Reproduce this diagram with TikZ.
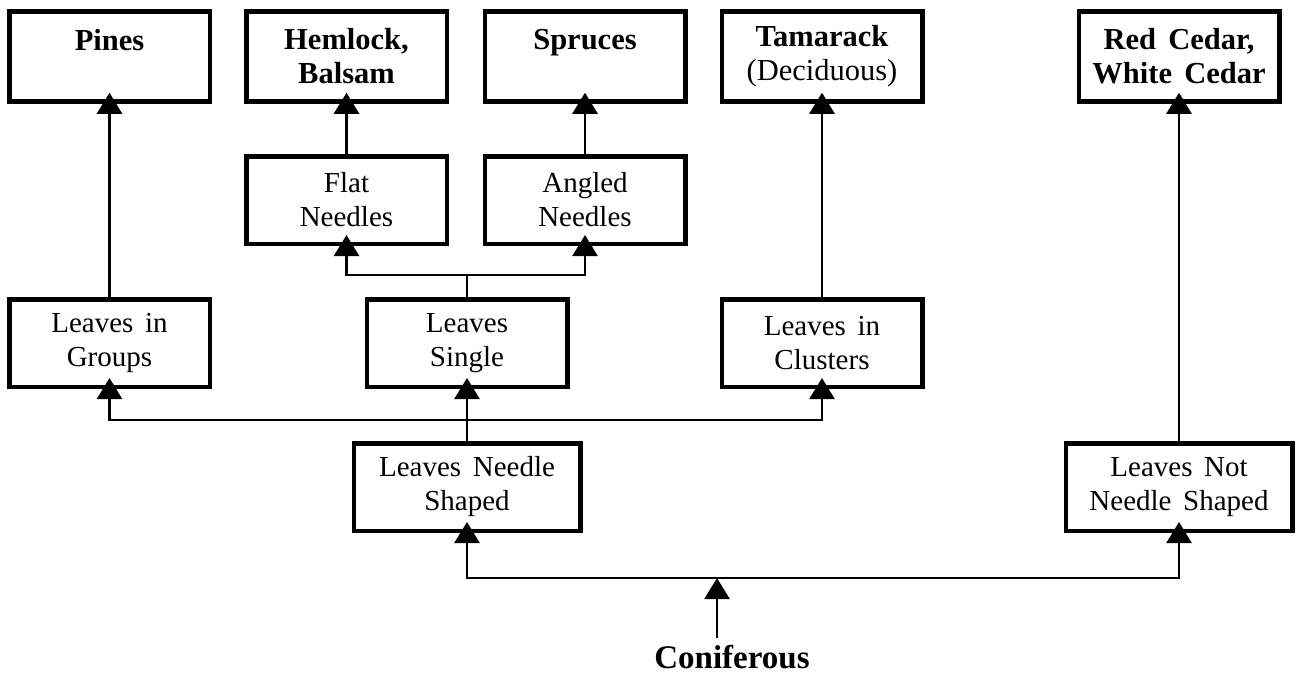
\documentclass[tikz,border=0pt]{standalone}
\usepackage{fontspec}
\setmainfont{Liberation Serif}[WordSpace=1.6]
\usetikzlibrary{arrows.meta, calc}

\begin{document}
\begin{tikzpicture}
[x=1pt, y=-1pt,
 trait/.style={rectangle, draw=black, fill=white, line width=4.5pt, inner sep=0pt,
   minimum width=200.5pt, minimum height=87.5pt, align=center,
   font=\fontsize{29}{34}\selectfont},
 traitwide/.style={trait, minimum width=226.5pt},
 species/.style={trait, minimum height=90pt, font=\fontsize{30.5}{34}\selectfont\bfseries},
 ->/.style={line width=2.5pt, arrows={-Triangle[length=21pt, width=25pt]}, shorten >=-11pt}]

\useasboundingbox (0,0) rectangle (1298,675);

% species at the top
\node[species] (pines) at (109.5,56.5) {Pines\\~};
\node[species] (hemlock) at (346.5,56.5) {Hemlock,\\Balsam};
\node[species] (spruces) at (585,56.5) {Spruces\\~};
\node[species] (tamarack) at (822,56.5) {Tamarack\\\textmd{(Deciduous)}};
\node[species] (cedar) at (1179,56.5) {Red Cedar,\\White Cedar};

% needles
\node[trait] (flat) at (346.5,200) {Flat\\Needles};
\node[trait] (angled) at (585,200) {Angled\\Needles};

% leaf groupings
\node[trait] (groups) at (109.5,343) {Leaves in\\Groups};
\node[trait] (single) at (467,343) {Leaves\\Single};
\node[trait] (clusters) at (822,343) {Leaves in\\Clusters};

% leaf shape
\node[traitwide] (needle) at (467,487) {Leaves Needle\\Shaped};
\node[traitwide] (notneedle) at (1179,487) {Leaves Not\\Needle Shaped};

% root
\node[font=\fontsize{33}{40}\selectfont\bfseries, inner sep=7pt, anchor=base] (conif) at (732,668) {Coniferous};
\coordinate (split) at (717,578);

  \draw [->] (groups.north) -- (pines.south);
  \draw [->] (flat.north) -- (hemlock.south);
  \draw [->] (angled.north) -- (spruces.south);
  \draw [->] (clusters.north) -- (tamarack.south);
  \draw [->] (notneedle.north) -- (cedar.south);
  \draw [->] (single.north) -- ++(0,-22) -| (flat.south);
  \draw [->] (single.north) -- ++(0,-22) -| (angled.south);
  \draw [->] (needle.north) -- (single.south);
  \draw [->] (needle.north) -- ++(0,-21) -| (groups.south);
  \draw [->] (needle.north) -- ++(0,-21) -| (clusters.south);
  \draw [->] (split) -| (needle.south);
  \draw [->] (split) -| (notneedle.south);
  \draw [->, shorten >=0pt] (conif.north -| split) -- (split);

\end{tikzpicture}
\end{document}
